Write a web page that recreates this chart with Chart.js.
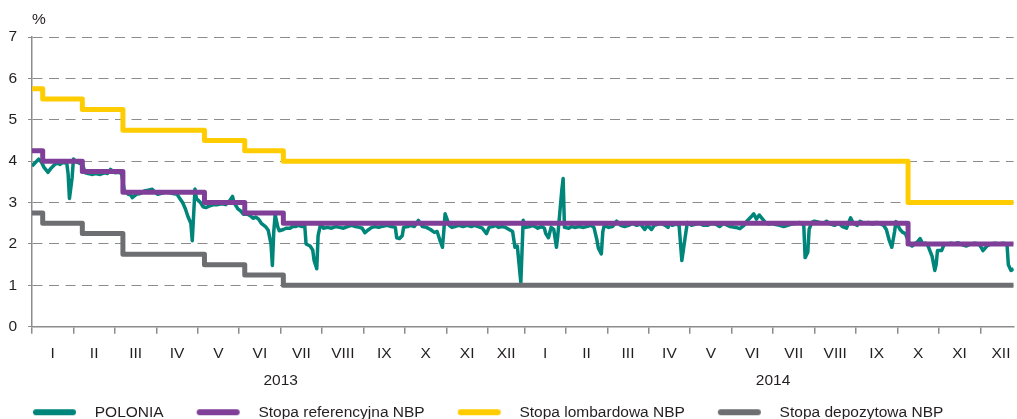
<!DOCTYPE html>
<html><head><meta charset="utf-8">
<script src="https://cdn.jsdelivr.net/npm/chart.js@4.4.1/dist/chart.umd.min.js"></script>
<style>
html,body{margin:0;padding:0;overflow:hidden;background:#fff;width:1017px;height:419px}
#wrap{position:relative;width:1017px;height:430px}
canvas{display:block}
</style></head>
<body><div id="wrap"><canvas id="c" width="1017" height="430"></canvas></div>
<script>
// ---------- DATA ----------
const monthLabels = ['I','II','III','IV','V','VI','VII','VIII','IX','X','XI','XII'];
const years = [2013, 2014];

const seriesNames = ['POLONIA','Stopa referencyjna NBP','Stopa lombardowa NBP','Stopa depozytowa NBP'];

// NBP official rates: dates when a new level starts (last entry = end of plotted period)
const rateDates = ['2013-01-01','2013-01-09','2013-02-07','2013-03-07','2013-05-06','2013-06-05','2013-07-03','2014-10-09','2014-12-26'];
const referenceRate = [4.25,4.00,3.75,3.25,3.00,2.75,2.50,2.00,2.00];
const lombardRate   = [5.75,5.50,5.25,4.75,4.50,4.25,4.00,3.00,3.00];
const depositRate   = [2.75,2.50,2.25,1.75,1.50,1.25,1.00,1.00,1.00];

// POLONIA overnight rate
const poloniaDates = [
'2013-01-01','2013-01-03','2013-01-06','2013-01-08','2013-01-10','2013-01-13','2013-01-15','2013-01-18','2013-01-20','2013-01-22','2013-01-24','2013-01-27','2013-01-28','2013-01-29','2013-01-31',
'2013-02-01','2013-02-03','2013-02-05','2013-02-07','2013-02-09','2013-02-11','2013-02-14','2013-02-16','2013-02-19','2013-02-22','2013-02-24','2013-02-26','2013-02-28',
'2013-03-01','2013-03-04','2013-03-06','2013-03-08','2013-03-11','2013-03-13','2013-03-14','2013-03-17','2013-03-20','2013-03-23','2013-03-26','2013-03-29','2013-03-31',
'2013-04-02','2013-04-04','2013-04-07','2013-04-10','2013-04-13','2013-04-16','2013-04-18','2013-04-20','2013-04-22','2013-04-24','2013-04-26','2013-04-27','2013-04-29','2013-04-30',
'2013-05-03','2013-05-05','2013-05-07','2013-05-10','2013-05-13','2013-05-16','2013-05-19','2013-05-22','2013-05-25','2013-05-27','2013-05-28','2013-05-31',
'2013-06-02','2013-06-04','2013-06-07','2013-06-09','2013-06-11','2013-06-13','2013-06-15','2013-06-17','2013-06-20','2013-06-22','2013-06-24','2013-06-25','2013-06-26','2013-06-27','2013-06-29','2013-06-30',
'2013-07-03','2013-07-05','2013-07-08','2013-07-10','2013-07-12','2013-07-14','2013-07-17','2013-07-19','2013-07-20','2013-07-23','2013-07-25','2013-07-26','2013-07-28','2013-07-29','2013-07-31',
'2013-08-02','2013-08-05','2013-08-08','2013-08-11','2013-08-14','2013-08-17','2013-08-20','2013-08-23','2013-08-26','2013-08-29','2013-08-31',
'2013-09-02','2013-09-04','2013-09-07','2013-09-09','2013-09-12','2013-09-15','2013-09-18','2013-09-21','2013-09-24','2013-09-25','2013-09-27','2013-09-29','2013-09-30',
'2013-10-03','2013-10-05','2013-10-08','2013-10-11','2013-10-14','2013-10-17','2013-10-20','2013-10-23','2013-10-25','2013-10-27','2013-10-29','2013-10-30','2013-10-31',
'2013-11-03','2013-11-05','2013-11-07','2013-11-10','2013-11-13','2013-11-16','2013-11-19','2013-11-21','2013-11-24','2013-11-27','2013-11-30',
'2013-12-02','2013-12-05','2013-12-08','2013-12-10','2013-12-13','2013-12-16','2013-12-19','2013-12-22','2013-12-24','2013-12-26','2013-12-29','2013-12-31',
'2014-01-02','2014-01-05','2014-01-07','2014-01-09','2014-01-11','2014-01-14','2014-01-16','2014-01-17','2014-01-19','2014-01-21','2014-01-23','2014-01-25','2014-01-26','2014-01-29','2014-01-30','2014-01-31',
'2014-02-03','2014-02-05','2014-02-07','2014-02-10','2014-02-13','2014-02-15','2014-02-18','2014-02-20','2014-02-22','2014-02-23','2014-02-25','2014-02-26','2014-02-27',
'2014-03-02','2014-03-05','2014-03-08','2014-03-11','2014-03-14','2014-03-17','2014-03-20','2014-03-23','2014-03-26','2014-03-29','2014-03-31',
'2014-04-03','2014-04-05','2014-04-08','2014-04-10','2014-04-13','2014-04-15','2014-04-16','2014-04-18','2014-04-21','2014-04-23','2014-04-25','2014-04-28','2014-04-29',
'2014-05-02','2014-05-05','2014-05-08','2014-05-11','2014-05-14','2014-05-17','2014-05-20','2014-05-23','2014-05-26','2014-05-29','2014-05-31',
'2014-06-04','2014-06-07','2014-06-10','2014-06-12','2014-06-15','2014-06-17','2014-06-19','2014-06-21','2014-06-23','2014-06-26','2014-06-28','2014-06-30',
'2014-07-03','2014-07-06','2014-07-09','2014-07-12','2014-07-15','2014-07-18','2014-07-21','2014-07-24','2014-07-25','2014-07-27','2014-07-28','2014-07-30',
'2014-08-01','2014-08-05','2014-08-08','2014-08-10','2014-08-13','2014-08-16','2014-08-19','2014-08-22','2014-08-25','2014-08-28','2014-08-30',
'2014-09-02','2014-09-04','2014-09-07','2014-09-10','2014-09-13','2014-09-16','2014-09-18','2014-09-21','2014-09-23','2014-09-25','2014-09-27','2014-09-29','2014-09-30',
'2014-10-03','2014-10-05','2014-10-07','2014-10-10','2014-10-12','2014-10-14','2014-10-16','2014-10-18','2014-10-20','2014-10-22','2014-10-24','2014-10-27','2014-10-29','2014-10-30','2014-10-31',
'2014-11-03','2014-11-05','2014-11-07','2014-11-10','2014-11-12','2014-11-15','2014-11-18','2014-11-21','2014-11-24','2014-11-27','2014-11-30',
'2014-12-02','2014-12-03','2014-12-06','2014-12-09','2014-12-12','2014-12-15','2014-12-18','2014-12-21','2014-12-22','2014-12-24','2014-12-26'
];
const poloniaValues = [
3.88,3.95,4.05,3.98,3.85,3.73,3.82,3.92,3.95,3.92,3.97,3.95,3.70,3.10,3.60,
4.05,3.98,3.95,3.93,3.72,3.70,3.68,3.70,3.68,3.72,3.70,3.80,3.75,
3.72,3.73,3.70,3.30,3.20,3.18,3.12,3.20,3.22,3.28,3.30,3.32,3.25,
3.20,3.22,3.25,3.25,3.22,3.20,3.10,3.00,2.85,2.65,2.50,2.08,3.33,3.10,
3.00,2.90,2.88,2.92,2.95,2.95,2.97,2.95,3.05,3.15,3.00,2.85,
2.80,2.72,2.72,2.68,2.62,2.65,2.60,2.50,2.42,2.33,2.00,1.48,2.30,2.70,2.40,2.32,
2.35,2.38,2.38,2.42,2.42,2.45,2.42,2.45,2.00,1.95,1.85,1.60,1.40,2.20,2.50,
2.38,2.40,2.38,2.42,2.40,2.38,2.42,2.45,2.42,2.40,2.38,
2.27,2.33,2.40,2.42,2.40,2.43,2.45,2.42,2.40,2.15,2.13,2.20,2.40,
2.42,2.45,2.42,2.57,2.42,2.40,2.35,2.28,2.30,2.10,1.92,2.30,2.73,
2.45,2.40,2.42,2.45,2.42,2.45,2.42,2.45,2.42,2.38,2.25,
2.40,2.42,2.45,2.40,2.42,2.40,2.35,2.30,1.92,1.95,1.07,2.57,
2.40,2.42,2.45,2.42,2.38,2.42,2.38,2.25,2.15,2.40,2.35,1.92,2.20,3.30,3.58,2.40,
2.38,2.42,2.40,2.42,2.40,2.42,2.45,2.40,2.10,1.90,1.76,2.30,2.45,
2.40,2.42,2.55,2.45,2.42,2.45,2.50,2.45,2.48,2.35,2.45,
2.35,2.45,2.48,2.50,2.45,2.40,2.50,2.45,2.48,2.45,1.60,2.30,2.52,
2.45,2.48,2.50,2.45,2.45,2.50,2.48,2.42,2.50,2.45,2.42,
2.40,2.37,2.45,2.55,2.65,2.73,2.60,2.70,2.62,2.50,2.48,2.50,
2.47,2.45,2.42,2.45,2.48,2.50,2.52,2.45,1.67,1.80,2.35,2.52,
2.55,2.52,2.50,2.55,2.48,2.45,2.50,2.42,2.38,2.63,2.50,
2.45,2.55,2.50,2.52,2.48,2.52,2.50,2.45,2.35,2.10,1.92,2.30,2.54,
2.35,2.28,2.25,2.00,1.95,2.00,2.05,2.13,2.00,2.02,1.95,1.70,1.36,1.50,1.84,
1.84,2.00,2.00,2.02,2.00,2.03,1.98,1.95,2.00,2.02,2.00,
1.90,1.84,1.95,2.00,2.02,2.00,2.02,2.00,1.50,1.36,1.40
];

const yTicks = [0,1,2,3,4,5,6,7];
const firstDate = '2013-01-01';
const lastDate = '2014-12-26';

// ---------- STYLE ----------
const FONT = "'Liberation Sans',Arial,sans-serif";
const TEXT = '#231f20';
const AXIS = '#8c8c8c';
const COLORS = ['#00857a','#7f3f98','#ffcc00','#6d6e71'];
const FS = 15.5;

// month span on the axis (the source chart draws Dec 2013 a bit narrower)
function monthSpan(y, m){ return (y === 2013 && m === 12) ? 0.88 : 1; }
function toPos(s){
  const [y, m, d] = s.split('-').map(Number);
  let p = 0;
  for (const yy of years){
    for (let mm = 1; mm <= 12; mm++){
      if (yy === y && mm === m){
        const days = new Date(yy, mm, 0).getDate();
        return p + monthSpan(yy, mm) * (d - 1) / days;
      }
      p += monthSpan(yy, mm);
    }
  }
  return p;
}
const pad2 = n => String(n).padStart(2,'0');
const boundaryTicks = [];
const labelTicks = [];
for (const y of years){
  for (let m = 1; m <= 12; m++){
    const start = toPos(`${y}-${pad2(m)}-01`);
    boundaryTicks.push({value: start});
    labelTicks.push({value: start + monthSpan(y, m) / 2, lbl: monthLabels[m-1]});
  }
  labelTicks.push({value: toPos(`${y}-07-01`), lbl: ['', String(y)]});
}
labelTicks.sort((a,b) => a.value - b.value);
const xMin = toPos(firstDate), xMax = toPos(lastDate);

const toPoints = (dates, vals) => dates.map((d, i) => ({x: toPos(d), y: vals[i]}));

function swatch(color){
  const c = document.createElement('canvas');
  c.width = 84; c.height = 8;
  const g = c.getContext('2d');
  g.strokeStyle = color; g.lineWidth = 6; g.lineCap = 'round';
  g.beginPath(); g.moveTo(33, 4); g.lineTo(70, 4); g.stroke();
  return c;
}

const pctPlugin = {
  id: 'pct',
  afterDraw(chart){
    const {ctx, chartArea} = chart;
    ctx.save();
    ctx.font = `${FS}px ${FONT}`;
    ctx.fillStyle = TEXT;
    ctx.textAlign = 'left';
    ctx.textBaseline = 'middle';
    ctx.fillText('%', chartArea.left, chartArea.top - 17.5);
    ctx.restore();
  }
};

Chart.defaults.font.family = FONT;
Chart.defaults.font.size = FS;
Chart.defaults.color = TEXT;

const lineBase = {pointRadius: 0, pointHoverRadius: 0, tension: 0, borderJoinStyle: 'round', fill: false, xAxisID: 'x', yAxisID: 'y'};

new Chart(document.getElementById('c'), {
  type: 'line',
  data: {
    datasets: [
      {...lineBase, label: seriesNames[0], data: toPoints(poloniaDates, poloniaValues), borderColor: COLORS[0], backgroundColor: COLORS[0], borderWidth: 3.5, order: 2},
      {...lineBase, label: seriesNames[1], data: toPoints(rateDates, referenceRate), borderColor: COLORS[1], backgroundColor: COLORS[1], borderWidth: 5, stepped: true, order: 1},
      {...lineBase, label: seriesNames[2], data: toPoints(rateDates, lombardRate), borderColor: COLORS[2], backgroundColor: COLORS[2], borderWidth: 5, stepped: true, order: 1},
      {...lineBase, label: seriesNames[3], data: toPoints(rateDates, depositRate), borderColor: COLORS[3], backgroundColor: COLORS[3], borderWidth: 5, stepped: true, order: 1}
    ]
  },
  options: {
    responsive: false,
    animation: false,
    events: [],
    layout: {padding: {top: 37, left: 0, right: 0, bottom: 0}},
    scales: {
      x: {
        type: 'linear', position: 'bottom', min: xMin, max: xMax, weight: 0,
        afterBuildTicks(s){ s.ticks = boundaryTicks.map(t => ({value: t.value})); },
        ticks: {display: false},
        grid: {display: true, drawOnChartArea: false, drawTicks: true, tickLength: 7, color: AXIS, tickColor: AXIS, lineWidth: 1.5, tickWidth: 1.5},
        border: {display: true, color: AXIS, width: 1.5}
      },
      xm: {
        type: 'linear', position: 'bottom', min: xMin, max: xMax, weight: 1,
        afterBuildTicks(s){ s.ticks = labelTicks.map(t => ({value: t.value, lbl: t.lbl})); },
        afterFit(s){ s.height += 0.75; },
        ticks: {autoSkip: false, maxRotation: 0, minRotation: 0, padding: 6.5, color: TEXT, font: {size: FS, lineHeight: 1.742},
                callback: (v, i, t) => t[i].lbl},
        grid: {display: false, drawTicks: false},
        border: {display: false}
      },
      y: {
        min: yTicks[0], max: yTicks[yTicks.length-1],
        afterBuildTicks(s){ s.ticks = yTicks.map(v => ({value: v})); },
        afterFit(s){ s.width = 32; },
        ticks: {padding: 11, color: TEXT, font: {size: FS}},
        grid: {color: AXIS, lineWidth: 1, tickLength: 4, tickColor: AXIS, tickBorderDash: []},
        border: {display: true, color: AXIS, width: 1.5, dash: [10, 6.5]}
      }
    },
    plugins: {
      tooltip: {enabled: false},
      legend: {
        position: 'bottom', align: 'start',
        labels: {
          usePointStyle: true, pointStyleWidth: 84, padding: 3, color: TEXT, font: {size: FS},
          generateLabels(chart){
            return chart.data.datasets.map((ds, i) => ({
              text: ds.label, fillStyle: ds.borderColor, strokeStyle: ds.borderColor, lineWidth: 0,
              pointStyle: swatch(ds.borderColor), hidden: false, datasetIndex: i, fontColor: TEXT
            }));
          }
        }
      }
    }
  },
  plugins: [pctPlugin]
});
</script>
</body></html>
